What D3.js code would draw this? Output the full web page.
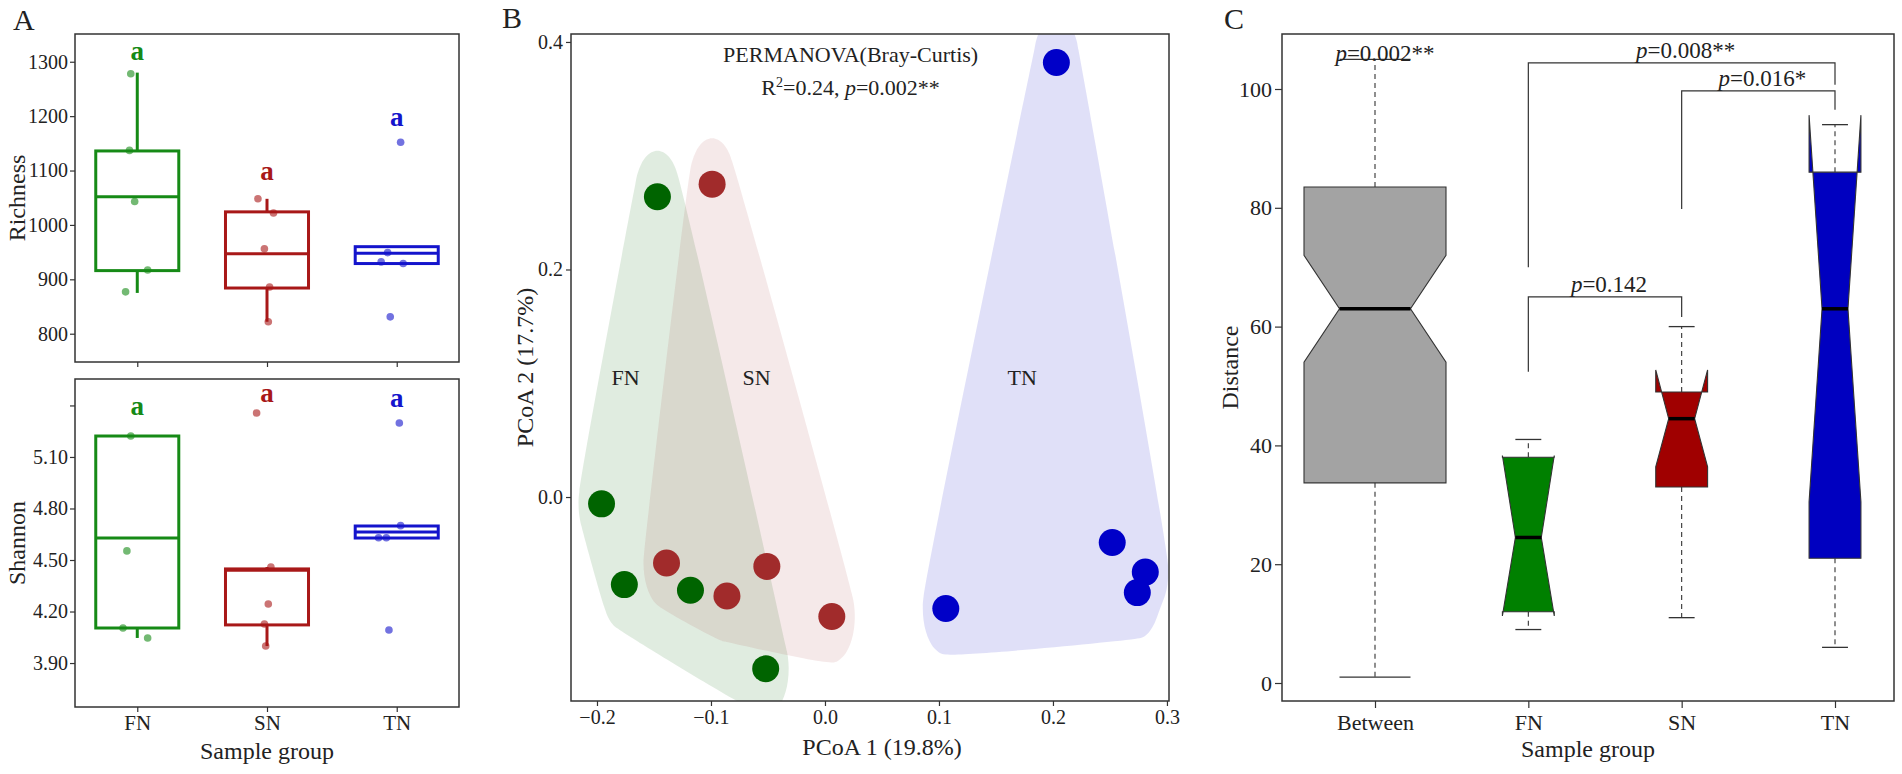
<!DOCTYPE html>
<html>
<head>
<meta charset="utf-8">
<script src="https://cdn.jsdelivr.net/npm/d3@7"></script>
<style>
    body { margin: 0; background: #fff; }
    svg text { font-family: "Liberation Serif", "Times New Roman", serif; fill: #222; }
</style>
</head>
<body>
<div id="chart"></div>
<script>
// ---------- data ----------
const groups = ["FN", "SN", "TN"];

// panel A, box stats: [q1, median, q3, whisker low, whisker high]
const richnessBox = [
    [916, 1052, 1136, 875, 1280],
    [884, 947, 1024, 822, 1048],
    [929, 948, 960, 929, 960]
];
const shannonBox = [
    [4.104, 4.628, 5.222, 4.046, 5.222],
    [4.122, 4.44, 4.448, 3.999, 4.459],
    [4.628, 4.663, 4.698, 4.628, 4.70]
];
// jittered samples (group index, value, jitter in group steps)
const richnessGroup = [0, 0, 0, 0, 0, 1, 1, 1, 1, 1, 2, 2, 2, 2, 2];
const richnessValue = [1278, 1137, 1043, 917, 877, 1048, 1022, 956, 886, 822, 1152, 949, 932, 929, 831];
const richnessJitter = [-0.05, -0.06, -0.02, 0.08, -0.09, -0.07, 0.05, -0.02, 0.02, 0.01, 0.03, -0.07, -0.12, 0.05, -0.05];
const shannonGroup = [0, 0, 0, 0, 1, 1, 1, 1, 1, 2, 2, 2, 2, 2];
const shannonValue = [5.222, 4.553, 4.104, 4.046, 5.356, 4.459, 4.244, 4.127, 3.999, 4.70, 4.63, 4.63, 5.298, 4.092];
const shannonJitter = [-0.05, -0.08, -0.11, 0.08, -0.08, 0.03, 0.01, -0.02, -0.01, 0.03, -0.14, -0.08, 0.02, -0.06];
const richnessLetterY = [1304, 1083, 1182];
const shannonLetterY = [5.345, 5.42, 5.39];
const richnessTicks = [800, 900, 1000, 1100, 1200, 1300];
const shannonTicks = [3.9, 4.2, 4.5, 4.8, 5.1, 5.4];

// panel B, PCoA scores
const pcoaGroup = ["FN", "FN", "FN", "FN", "FN", "SN", "SN", "SN", "SN", "SN", "TN", "TN", "TN", "TN", "TN"];
const pcoa1 = [-0.147, -0.196, -0.176, -0.118, -0.052, -0.099, -0.139, -0.086, -0.051, 0.006, 0.106, 0.203, 0.252, 0.281, 0.274];
const pcoa2 = [0.264, -0.006, -0.077, -0.082, -0.151, 0.275, -0.058, -0.087, -0.061, -0.105, -0.098, 0.382, -0.040, -0.066, -0.084];
const pcoaLabelX = [-0.175, -0.06, 0.173];
const pcoaLabelY = [0.105, 0.105, 0.105];
const pcoaXTicks = [-0.2, -0.1, 0.0, 0.1, 0.2, 0.3];
const pcoaYTicks = [0.0, 0.2, 0.4];

// panel C, distance boxplots
const distGroups = ["Between", "FN", "SN", "TN"];
const distN = [75, 10, 10, 10];
const distLow = [1, 9, 11, 6];
const distQ1 = [33.7, 12, 33, 21];
const distMedian = [63, 24.5, 44.5, 63];
const distQ3 = [83.5, 38, 49, 86];
const distHigh = [105, 41, 60, 94];
const distNotchLow = [54, 11.3, 36.4, 30.5];
const distNotchHigh = [72, 38.3, 52.7, 95.6];
const distTicks = [0, 20, 40, 60, 80, 100];
const bracketFrom = ["FN", "FN", "SN"];
const bracketTo = ["SN", "TN", "TN"];
const bracketY = [65, 104.4, 99.7];
const bracketLeftEnd = [52.4, 70, 79.8];
const bracketRightEnd = [61.6, 100.7, 96.5];
const bracketP = ["0.142", "0.008**", "0.016*"];
const betweenP = "0.002**";

// ---------- styles ----------
const serif = '"Liberation Serif", "Times New Roman", serif';
const lineColors = ["#168a16", "#a81818", "#1414cc"];
const pcoaColors = { FN: "#006400", SN: "#a12b2b", TN: "#0000c8" };
const hullOpacity = { FN: 0.12, SN: 0.1, TN: 0.12 };
const distColors = ["#a3a3a3", "#008000", "#a00000", "#0000c0"];
const frameColor = "#333";

const svg = d3.select("#chart")
    .append("svg")
    .attr("width", 1902)
    .attr("height", 774);

function styleAxis(sel, size) {
    sel.attr("font-family", serif).attr("font-size", size);
    sel.select(".domain").remove();
    sel.selectAll(".tick line").attr("stroke", frameColor).attr("stroke-width", 1.2);
    sel.selectAll(".tick text").attr("fill", "#222");
}

function frame(g, x0, y0, x1, y1) {
    g.append("rect")
        .attr("x", x0).attr("y", y0)
        .attr("width", x1 - x0).attr("height", y1 - y0)
        .attr("fill", "none")
        .attr("stroke", frameColor)
        .attr("stroke-width", 1.5);
}

function panelLabel(text, x, y) {
    svg.append("text")
        .attr("x", x).attr("y", y)
        .style("font-size", "30px")
        .text(text);
}

// ---------- panel A ----------
function drawAlpha(opt) {
    const { x0, x1, y0, y1, domain, ticks, fmt, title, box, grp, val, jit, letterY, showX } = opt;
    const x = d3.scalePoint().domain(groups).range([x0, x1]).padding(0.48);
    const y = d3.scaleLinear().domain(domain).range([y1, y0]);
    const step = x.step();
    const bw = step * 0.64;
    const g = svg.append("g");

    box.forEach((b, i) => {
        const cx = x(groups[i]);
        const col = lineColors[i];
        g.append("line")
            .attr("x1", cx).attr("x2", cx)
            .attr("y1", y(b[2])).attr("y2", y(b[4]))
            .attr("stroke", col).attr("stroke-width", 3);
        g.append("line")
            .attr("x1", cx).attr("x2", cx)
            .attr("y1", y(b[0])).attr("y2", y(b[3]))
            .attr("stroke", col).attr("stroke-width", 3);
        g.append("rect")
            .attr("x", cx - bw / 2).attr("width", bw)
            .attr("y", y(b[2])).attr("height", y(b[0]) - y(b[2]))
            .attr("fill", "none").attr("stroke", col).attr("stroke-width", 3);
        g.append("line")
            .attr("x1", cx - bw / 2).attr("x2", cx + bw / 2)
            .attr("y1", y(b[1])).attr("y2", y(b[1]))
            .attr("stroke", col).attr("stroke-width", 3);
        g.append("text")
            .attr("x", cx).attr("y", y(letterY[i]))
            .attr("text-anchor", "middle")
            .style("font-size", "27px")
            .style("font-weight", "bold")
            .style("fill", col)
            .text("a");
    });

    g.selectAll(".pt")
        .data(val)
        .enter()
        .append("circle")
        .attr("cx", (d, i) => x(groups[grp[i]]) + jit[i] * step)
        .attr("cy", (d) => y(d))
        .attr("r", 3.8)
        .style("fill", (d, i) => lineColors[grp[i]])
        .style("opacity", 0.6);

    frame(g, x0, y0, x1, y1);

    g.append("g")
        .attr("transform", `translate(${x0},0)`)
        .call(d3.axisLeft(y).tickValues(ticks).tickFormat(fmt).tickSize(5).tickPadding(2))
        .call((a) => styleAxis(a, 20));

    g.append("g")
        .attr("transform", `translate(0,${y1})`)
        .call(d3.axisBottom(x).tickSize(5).tickPadding(3).tickFormat(showX ? (d) => d : () => ""))
        .call((a) => styleAxis(a, 21));

    g.append("text")
        .attr("transform", `translate(${x0 - 58},${(y0 + y1) / 2}) rotate(-90)`)
        .attr("text-anchor", "middle")
        .attr("dominant-baseline", "central")
        .style("font-size", "24px")
        .text(title);

    if (showX) {
        g.append("text")
            .attr("x", (x0 + x1) / 2).attr("y", y1 + 52)
            .attr("text-anchor", "middle")
            .style("font-size", "24px")
            .text("Sample group");
    }
}

drawAlpha({
    x0: 75, x1: 459, y0: 34, y1: 362,
    domain: [748, 1351], ticks: richnessTicks, fmt: d3.format("d"),
    title: "Richness", box: richnessBox,
    grp: richnessGroup, val: richnessValue, jit: richnessJitter,
    letterY: richnessLetterY, showX: false
});
drawAlpha({
    x0: 75, x1: 459, y0: 379, y1: 707,
    domain: [3.644, 5.554], ticks: shannonTicks,
    fmt: (d) => (d > 5.35 ? "" : d3.format(".2f")(d)),
    title: "Shannon", box: shannonBox,
    grp: shannonGroup, val: shannonValue, jit: shannonJitter,
    letterY: shannonLetterY, showX: true
});
panelLabel("A", 13, 30);

// ---------- panel B ----------
function drawPcoa() {
    const x0 = 571, x1 = 1169, y0 = 34, y1 = 701;
    const x = d3.scaleLinear().domain([-0.2228, 0.3018]).range([x0, x1]);
    const y = d3.scaleLinear().domain([-0.1793, 0.407]).range([y1, y0]);
    const g = svg.append("g");

    svg.append("clipPath").attr("id", "clipB")
        .append("rect")
        .attr("x", x0).attr("y", y0)
        .attr("width", x1 - x0).attr("height", y1 - y0);

    const hulls = g.append("g").attr("clip-path", "url(#clipB)");
    groups.forEach((grp) => {
        const cloud = [];
        pcoa1.forEach((v, i) => {
            if (pcoaGroup[i] !== grp) return;
            const cx = x(v), cy = y(pcoa2[i]);
            d3.range(24).forEach((k) => {
                const a = (k / 24) * 2 * Math.PI;
                cloud.push([cx + 23 * Math.cos(a), cy + 46 * Math.sin(a)]);
            });
        });
        hulls.append("path")
            .attr("d", d3.line().curve(d3.curveCatmullRomClosed)(d3.polygonHull(cloud)))
            .style("fill", pcoaColors[grp])
            .style("opacity", hullOpacity[grp]);
    });

    g.selectAll(".pcoa")
        .data(pcoa1)
        .enter()
        .append("circle")
        .attr("cx", (d) => x(d))
        .attr("cy", (d, i) => y(pcoa2[i]))
        .attr("r", 13.5)
        .style("fill", (d, i) => pcoaColors[pcoaGroup[i]]);

    groups.forEach((grp, i) => {
        g.append("text")
            .attr("x", x(pcoaLabelX[i])).attr("y", y(pcoaLabelY[i]))
            .attr("text-anchor", "middle")
            .attr("dominant-baseline", "central")
            .style("font-size", "22px")
            .text(grp);
    });

    const cx = x(0.0225);
    g.append("text")
        .attr("x", cx).attr("y", 62)
        .attr("text-anchor", "middle")
        .style("font-size", "22px")
        .text("PERMANOVA(Bray-Curtis)");
    const stat = g.append("text")
        .attr("x", cx).attr("y", 95)
        .attr("text-anchor", "middle")
        .style("font-size", "22px");
    stat.append("tspan").text("R");
    stat.append("tspan").attr("dy", -8).style("font-size", "14px").text("2");
    stat.append("tspan").attr("dy", 8).text("=0.24, ");
    stat.append("tspan").style("font-style", "italic").text("p");
    stat.append("tspan").text("=0.002**");

    frame(g, x0, y0, x1, y1);

    g.append("g")
        .attr("transform", `translate(${x0},0)`)
        .call(d3.axisLeft(y).tickValues(pcoaYTicks).tickFormat(d3.format(".1f")).tickSize(5).tickPadding(3))
        .call((a) => styleAxis(a, 20));
    g.append("g")
        .attr("transform", `translate(0,${y1})`)
        .call(d3.axisBottom(x).tickValues(pcoaXTicks).tickFormat(d3.format(".1f")).tickSize(5).tickPadding(4))
        .call((a) => styleAxis(a, 20));

    g.append("text")
        .attr("transform", `translate(${x0 - 46},${(y0 + y1) / 2}) rotate(-90)`)
        .attr("text-anchor", "middle")
        .attr("dominant-baseline", "central")
        .style("font-size", "24px")
        .text("PCoA 2 (17.7%)");
    g.append("text")
        .attr("x", (x0 + x1) / 2 + 12).attr("y", 755)
        .attr("text-anchor", "middle")
        .style("font-size", "24px")
        .text("PCoA 1 (19.8%)");
}
drawPcoa();
panelLabel("B", 502, 28);

// ---------- panel C ----------
function drawDistance() {
    const x0 = 1282, x1 = 1894, y0 = 34, y1 = 701;
    const x = d3.scalePoint().domain(distGroups).range([x0 + 93, x1 - 59]);
    const y = d3.scaleLinear().domain([-3.03, 109.26]).range([y1, y0]);
    const maxN = d3.max(distN);
    const g = svg.append("g");

    distGroups.forEach((grp, i) => {
        const cx = x(grp);
        const hw = 71 * Math.sqrt(distN[i] / maxN);
        const nw = hw / 2;

        [[distQ3[i], distHigh[i]], [distQ1[i], distLow[i]]].forEach(([a, b]) => {
            g.append("line")
                .attr("x1", cx).attr("x2", cx)
                .attr("y1", y(a)).attr("y2", y(b))
                .attr("stroke", frameColor).attr("stroke-width", 1.1)
                .attr("stroke-dasharray", "5,4");
            g.append("line")
                .attr("x1", cx - nw).attr("x2", cx + nw)
                .attr("y1", y(b)).attr("y2", y(b))
                .attr("stroke", frameColor).attr("stroke-width", 1.3);
        });

        const pts = [
            [cx - hw, y(distQ1[i])], [cx - hw, y(distNotchLow[i])], [cx - nw, y(distMedian[i])],
            [cx - hw, y(distNotchHigh[i])], [cx - hw, y(distQ3[i])], [cx + hw, y(distQ3[i])],
            [cx + hw, y(distNotchHigh[i])], [cx + nw, y(distMedian[i])], [cx + hw, y(distNotchLow[i])],
            [cx + hw, y(distQ1[i])]
        ];
        g.append("path")
            .attr("d", d3.line()(pts) + "Z")
            .style("fill", distColors[i])
            .attr("stroke", frameColor)
            .attr("stroke-width", 1.1);
        g.append("line")
            .attr("x1", cx - nw).attr("x2", cx + nw)
            .attr("y1", y(distMedian[i])).attr("y2", y(distMedian[i]))
            .attr("stroke", "#000").attr("stroke-width", 3.5);
    });

    function pText(cxp, yb, val) {
        const t = g.append("text")
            .attr("x", cxp).attr("y", yb)
            .attr("text-anchor", "middle")
            .style("font-size", "23px");
        t.append("tspan").style("font-style", "italic").text("p");
        t.append("tspan").text("=" + val);
    }

    bracketFrom.forEach((f, i) => {
        const xa = x(f), xb = x(bracketTo[i]);
        g.append("path")
            .attr("d", d3.line()([[xa, y(bracketLeftEnd[i])], [xa, y(bracketY[i])], [xb, y(bracketY[i])], [xb, y(bracketRightEnd[i])]]))
            .attr("fill", "none")
            .attr("stroke", frameColor)
            .attr("stroke-width", 1.2);
        pText((xa + xb) / 2 + 4, y(bracketY[i]) - 5, bracketP[i]);
    });
    pText(x("Between") + 10, y(distHigh[0]) + 2, betweenP);

    frame(g, x0, y0, x1, y1);

    g.append("g")
        .attr("transform", `translate(${x0},0)`)
        .call(d3.axisLeft(y).tickValues(distTicks).tickSize(7).tickPadding(3))
        .call((a) => styleAxis(a, 22));
    g.append("g")
        .attr("transform", `translate(0,${y1})`)
        .call(d3.axisBottom(x).tickSize(7).tickPadding(6))
        .call((a) => styleAxis(a, 22));

    g.append("text")
        .attr("transform", `translate(${x0 - 52},${(y0 + y1) / 2}) rotate(-90)`)
        .attr("text-anchor", "middle")
        .attr("dominant-baseline", "central")
        .style("font-size", "24px")
        .text("Distance");
    g.append("text")
        .attr("x", (x0 + x1) / 2).attr("y", 757)
        .attr("text-anchor", "middle")
        .style("font-size", "24px")
        .text("Sample group");
}
drawDistance();
panelLabel("C", 1224, 29);
</script>
</body>
</html>
